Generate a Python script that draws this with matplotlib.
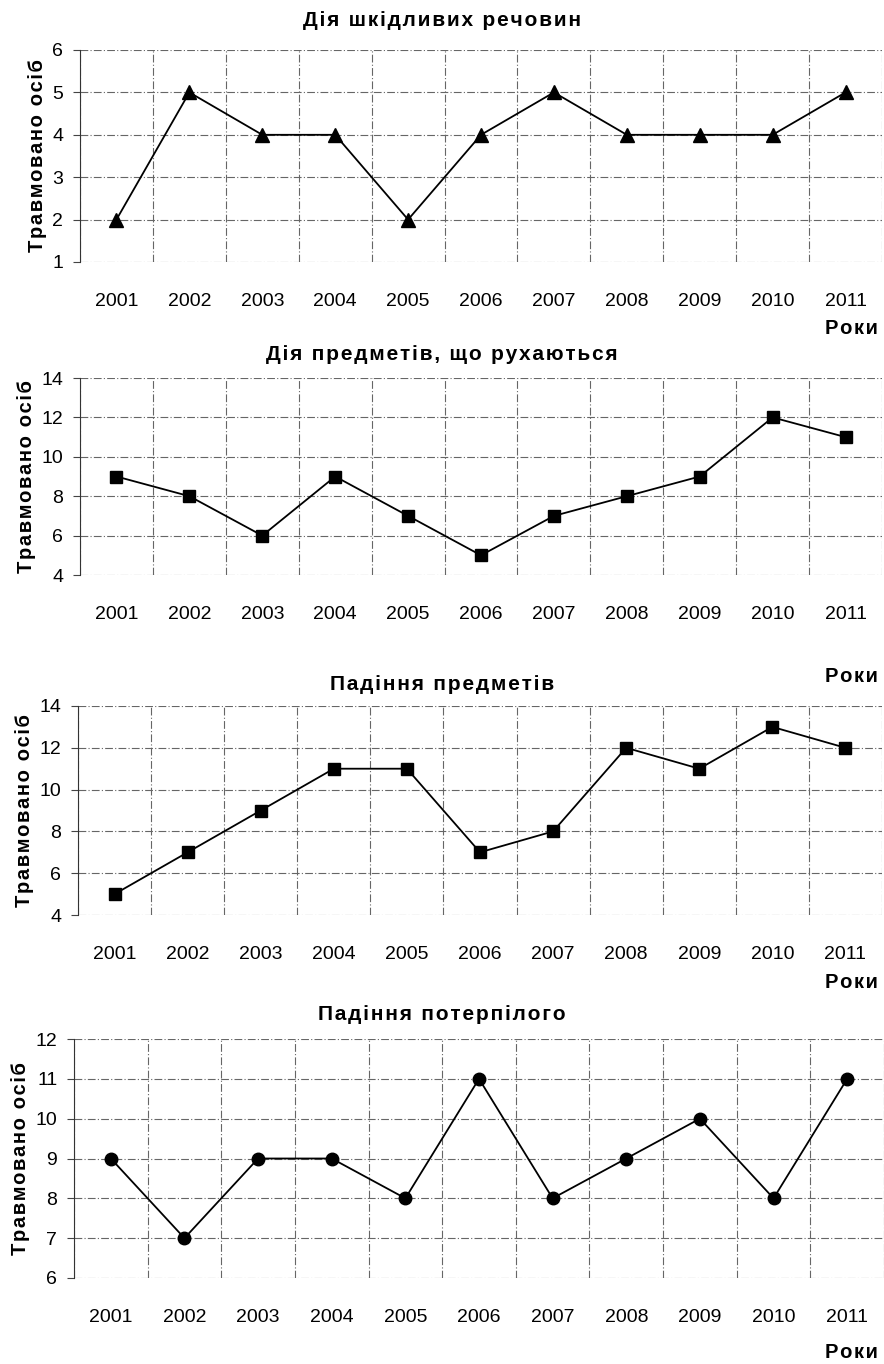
import numpy as np
import matplotlib.pyplot as plt

plt.rcParams["font.family"] = ["Liberation Sans", "DejaVu Sans"]

years = ["2001", "2002", "2003", "2004", "2005", "2006",
         "2007", "2008", "2009", "2010", "2011"]

harmful = [2, 5, 4, 4, 2, 4, 5, 4, 4, 4, 5]
moving = [9, 8, 6, 9, 7, 5, 7, 8, 9, 12, 11]
falling_objects = [5, 7, 9, 11, 11, 7, 8, 12, 11, 13, 12]
falling_victim = [9, 7, 9, 9, 8, 11, 8, 9, 10, 8, 11]

titles = ["Дія шкідливих речовин", "Дія предметів, що рухаються",
          "Падіння предметів", "Падіння потерпілого"]

W, H = 884, 1364


def spaced(s):
    # the original uses letter-spaced bold text
    return "\u200a".join(s)


def px_rect(left, top, right, bottom):
    return [left / W, 1 - bottom / H, (right - left) / W, (bottom - top) / H]


panels = [
    (harmful, "^", 10, (1, 6, 1), px_rect(80, 50, 882, 262), 21, 328),
    (moving, "s", 8, (4, 14, 2), px_rect(80, 378, 882, 575), 355, 676),
    (falling_objects, "s", 8, (4, 14, 2), px_rect(78, 706, 882, 915), 684, 982),
    (falling_victim, "o", 9, (6, 12, 1), px_rect(74, 1039, 884, 1278), 1015, 1352),
]

fig = plt.figure(figsize=(W / 100, H / 100), dpi=100)

for (vals, marker, ms, (lo, hi, step), rect, title_y, roky_y), title in zip(panels, titles):
    ax = fig.add_axes(rect)
    x = np.arange(len(years))
    ax.plot(x, vals, color="black", lw=1.3, marker=marker, markersize=ms,
            markerfacecolor="black", markeredgecolor="black", clip_on=False, zorder=3)
    ax.set_xlim(-0.5, len(years) - 0.5)
    ax.set_ylim(lo, hi)
    ax.set_yticks(np.arange(lo, hi + step / 2, step))
    ax.set_xticks(x)
    ax.set_xticklabels(years)
    ax.set_xticks(np.arange(-0.5, len(years), 1), minor=True)
    ax.tick_params(axis="x", which="both", length=0, labelsize=14, pad=22)
    ax.tick_params(axis="y", length=5, width=0.8, color="#444", labelsize=14, pad=7)
    ax.grid(True, axis="y", which="major", color="#666", lw=0.8, linestyle=(0, (7, 2, 1, 2)))
    ax.grid(True, axis="x", which="minor", color="#666", lw=0.8, linestyle=(0, (7, 2, 1, 2)))
    for s in ["top", "right", "bottom"]:
        ax.spines[s].set_visible(False)
    ax.spines["left"].set_color("#333")
    ax.spines["left"].set_linewidth(0.8)
    ax.set_ylabel(spaced("Травмовано осіб"), fontsize=14.5, fontweight="bold", labelpad=4)
    fig.text(0.5, 1 - title_y / H, spaced(title), fontsize=15, fontweight="bold",
             ha="center", va="center")
    fig.text(878 / W, 1 - roky_y / H, spaced("Роки"), fontsize=14.5, fontweight="bold",
             ha="right", va="center")

fig.savefig("out.png", dpi=100)
